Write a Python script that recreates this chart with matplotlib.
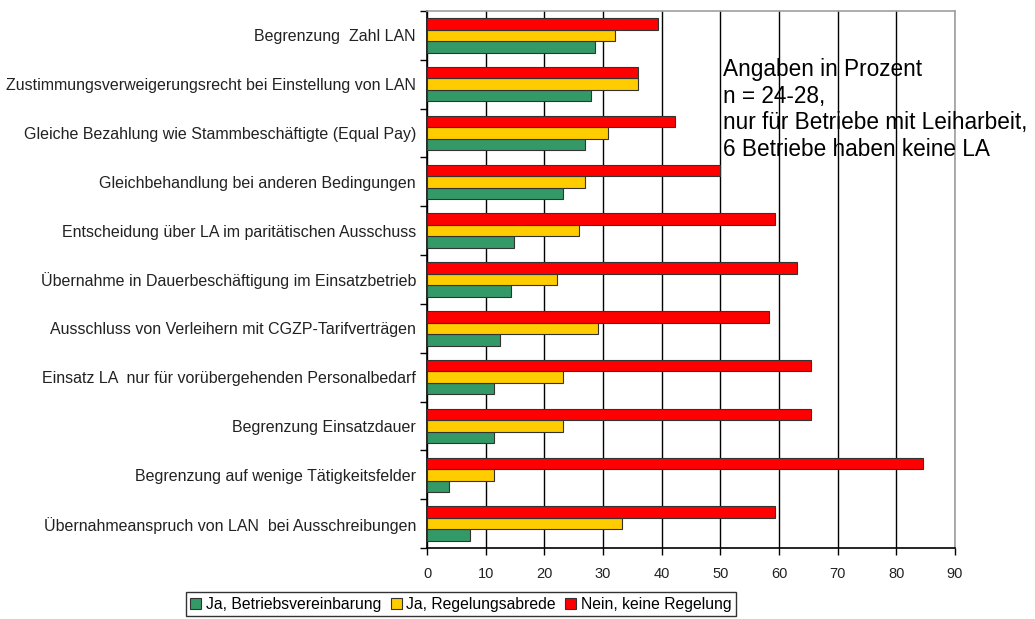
import matplotlib
matplotlib.use("Agg")
import matplotlib.pyplot as plt
import numpy as np

plt.rcParams['font.family'] = ['Liberation Sans', 'DejaVu Sans']

categories = [
    "Begrenzung  Zahl LAN",
    "Zustimmungsverweigerungsrecht bei Einstellung von LAN",
    "Gleiche Bezahlung wie Stammbeschäftigte (Equal Pay)",
    "Gleichbehandlung bei anderen Bedingungen",
    "Entscheidung über LA im paritätischen Ausschuss",
    "Übernahme in Dauerbeschäftigung im Einsatzbetrieb",
    "Ausschluss von Verleihern mit CGZP-Tarifverträgen",
    "Einsatz LA  nur für vorübergehenden Personalbedarf",
    "Begrenzung Einsatzdauer",
    "Begrenzung auf wenige Tätigkeitsfelder",
    "Übernahmeanspruch von LAN  bei Ausschreibungen",
]
ja_bv = [28.6, 28.0, 26.9, 23.1, 14.8, 14.3, 12.5, 11.5, 11.5, 3.8, 7.4]
ja_ra = [32.1, 36.0, 30.8, 26.9, 25.9, 22.2, 29.2, 23.1, 23.1, 11.5, 33.3]
nein = [39.3, 36.0, 42.3, 50.0, 59.3, 63.0, 58.3, 65.4, 65.4, 84.6, 59.3]

series_labels = ["Ja, Betriebsvereinbarung", "Ja, Regelungsabrede", "Nein, keine Regelung"]
colors = ["#339966", "#FFCC00", "#FF0000"]
xticks = [0, 10, 20, 30, 40, 50, 60, 70, 80, 90]

fig = plt.figure(figsize=(10.35, 6.19), dpi=100)
ax = fig.add_axes([427/1035, 1-548/619, (955-427)/1035, (548-11)/619])

y = np.arange(len(categories))
h = 0.235
bars = []
for vals, off, col, lab in zip([ja_bv, ja_ra, nein], [h, 0, -h], colors, series_labels):
    b = ax.barh(y + off, vals, height=h, color=col, edgecolor="#333333", linewidth=0.8, label=lab, zorder=3)
    bars.append(b)

ax.set_xlim(0, 90)
ax.set_ylim(len(categories) - 0.5, -0.5)
ax.set_xticks(xticks)
ax.set_xticklabels([str(t) for t in xticks], fontsize=10.5, color="#222222")
ax.set_yticks(y)
ax.set_yticklabels(categories, fontsize=11.5, color="#222222")
ax.tick_params(axis='y', length=0, pad=8)
ax.set_yticks(np.arange(-0.5, len(categories) + 0.5, 1), minor=True)
ax.tick_params(axis='y', which='minor', length=5, width=1, color='black', direction='out')
ax.tick_params(axis='x', length=5, width=1, color='black', direction='out', pad=9)
ax.xaxis.grid(True, color='black', linewidth=1, zorder=0)
ax.set_axisbelow(True)
for s in ['top', 'right']:
    ax.spines[s].set_color('#A0A0A0')
    ax.spines[s].set_linewidth(1.2)
for s in ['left', 'bottom']:
    ax.spines[s].set_color('black')
    ax.spines[s].set_linewidth(1.2)

fig.text(723/1035, 1-58/619,
         "Angaben in Prozent\nn = 24-28,\nnur für Betriebe mit Leiharbeit,\n6 Betriebe haben keine LA",
         fontsize=16.3, va='top', ha='left', color='black', linespacing=1.2)

leg = fig.legend(handles=bars, labels=series_labels, loc='center', bbox_to_anchor=(461/1035, 1-604/619),
                 ncol=3, fontsize=11.3, frameon=True, fancybox=False, edgecolor='black',
                 handlelength=0.7, handleheight=0.7, handletextpad=0.3, columnspacing=0.6,
                 borderpad=0.3, borderaxespad=0)
leg.get_frame().set_linewidth(1.0)

fig.savefig("out.png", dpi=100)
